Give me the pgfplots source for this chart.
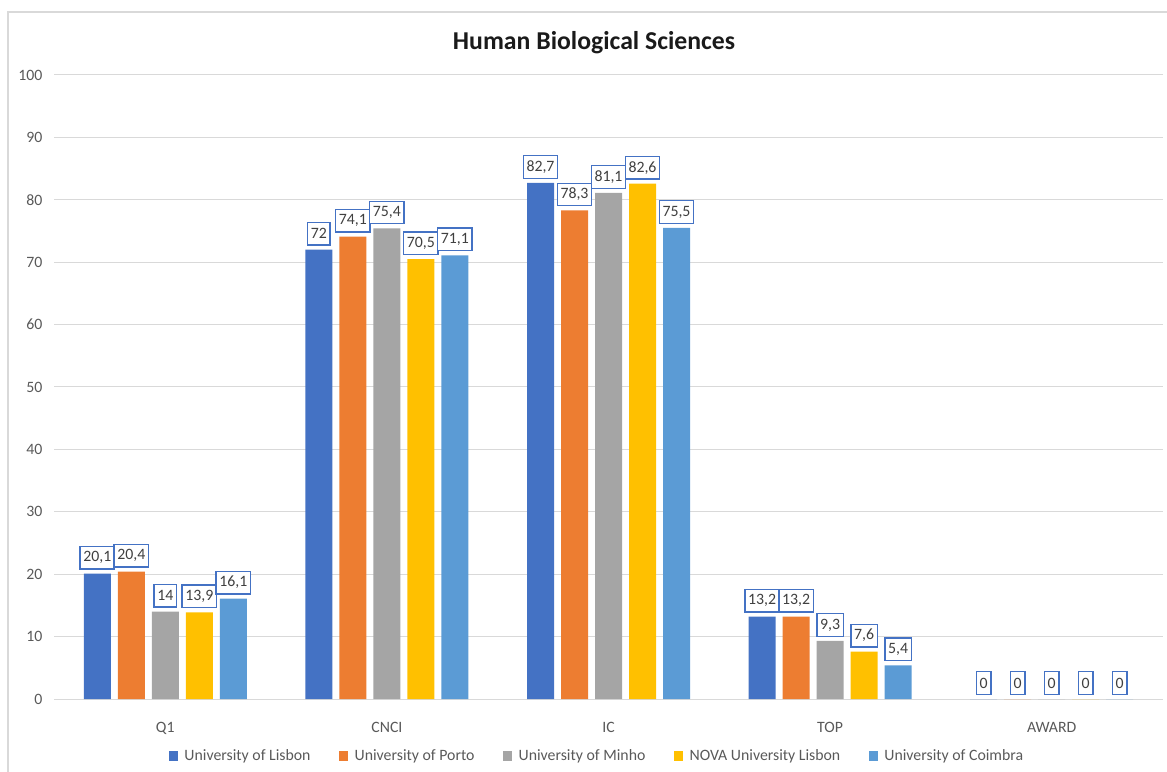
\documentclass[border=0pt]{standalone}
\usepackage{fontspec}
\setmainfont{Carlito}
\usepackage{pgfplots}
\pgfplotsset{compat=1.18}
\definecolor{cLis}{HTML}{4472C4}
\definecolor{cPor}{HTML}{ED7D31}
\definecolor{cMin}{HTML}{A5A5A5}
\definecolor{cNov}{HTML}{FFC000}
\definecolor{cCoi}{HTML}{5B9BD5}
\definecolor{gridc}{HTML}{D9D9D9}
\definecolor{tickc}{HTML}{595959}
\definecolor{labc}{HTML}{404040}
\definecolor{titlec}{HTML}{1A1A1A}
\definecolor{framec}{HTML}{D9D9D9}
\begin{document}
\begin{tikzpicture}
\useasboundingbox (0,0) rectangle (875.25pt,578.25pt);
\draw[color=framec, line width=0.9pt] (6pt,-20pt) rectangle (890pt,569.25pt);
\node[anchor=base, font=\fontsize{19.3}{23}\selectfont\bfseries, text=titlec, inner sep=0pt] at (445.5pt,540.75pt) {Human Biological Sciences};
\begin{axis}[
  at={(40.875pt,54pt)}, anchor=south west,
  scale only axis, width=831pt, height=468pt,
  xmin=-0.5, xmax=4.5, ymin=0, ymax=100,
  ytick={0,10,...,100},
  xtick={0,1,2,3,4},
  xticklabels={Q1,CNCI,IC,TOP,AWARD},
  axis line style={draw=none},
  tick style={draw=none},
  ymajorgrids,
  grid style={color=gridc, line width=0.75pt},
  /pgf/number format/assume math mode=true,
  /pgf/number format/use comma,
  ticklabel style={font=\fontsize{11.85}{14}\selectfont, text=tickc},
  yticklabel style={xshift=-5.6pt},
  xticklabel style={anchor=base, yshift=-20.5pt},
  ybar=5.25pt, bar width=20.25pt,
  clip=false,
  nodes near coords,
  every node near coord/.append style={anchor=south, yshift=3pt, draw=cLis, line width=1pt, fill=white,
     font=\fontsize{11.85}{14}\selectfont, text=labc, inner xsep=2.4pt, inner ysep=0pt, minimum height=16.9pt},
  legend columns=5,
  legend style={at={(0.49,-0.0913)}, anchor=center, draw=none, fill=none, inner sep=0pt,
     font=\fontsize{11.85}{14}\selectfont, text=tickc,
     /tikz/every even column/.append style={column sep=19.5pt}},
  legend image code/.code={\fill[#1] (0pt,-3.4pt) rectangle (6.8pt,3.4pt); \path (9.6pt,0pt);},
]
\addplot[fill=cLis, draw=none] coordinates {(0,20.1) (1,72) (2,82.7) (3,13.2) (4,0)};
\addplot[fill=cPor, draw=none] coordinates {(0,20.4) (1,74.1) (2,78.3) (3,13.2) (4,0)};
\addplot[fill=cMin, draw=none] coordinates {(0,14) (1,75.4) (2,81.1) (3,9.3) (4,0)};
\addplot[fill=cNov, draw=none] coordinates {(0,13.9) (1,70.5) (2,82.6) (3,7.6) (4,0)};
\addplot[fill=cCoi, draw=none] coordinates {(0,16.1) (1,71.1) (2,75.5) (3,5.4) (4,0)};
\legend{University of Lisbon,University of Porto,University of Minho,NOVA University Lisbon,University of Coimbra}
\end{axis}
\end{tikzpicture}
\end{document}
